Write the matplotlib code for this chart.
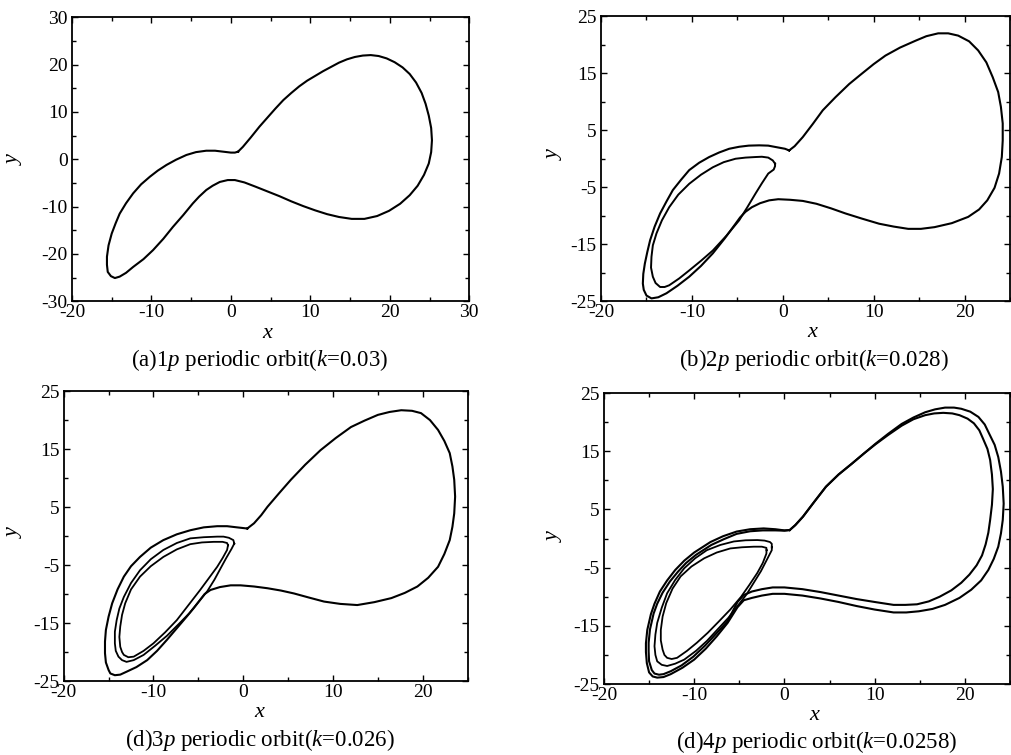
import numpy as np
import matplotlib.pyplot as plt
from matplotlib.ticker import MultipleLocator

plt.rcParams['font.family'] = ['Liberation Serif', 'DejaVu Serif']
plt.rcParams['mathtext.fontset'] = 'custom'
plt.rcParams['mathtext.rm'] = 'Liberation Serif'
plt.rcParams['mathtext.it'] = 'Liberation Serif:italic'
plt.rcParams['axes.unicode_minus'] = False

# (a) 1p orbit, k=0.03
a_x = [0.9, 1.5, 2.5, 3.6, 4.6, 5.6, 6.6, 7.6, 8.6, 9.6, 10.6, 11.6, 12.6, 13.6, 14.6, 15.6,
       16.6, 17.6, 18.6, 19.6, 20.6, 21.6, 22.5, 23.3, 24.0, 24.5, 24.9, 25.2, 25.3, 25.2, 24.9,
       24.3, 23.5, 22.5, 21.3, 19.9, 18.4, 16.8, 15.2, 13.6, 12.1, 10.6, 9.1, 7.6, 6.1, 4.6, 3.1,
       1.7, 0.5, -0.4, -1.4, -2.3, -3.1, -4.0, -4.8, -6.0, -7.3, -8.5, -9.8, -11.0, -12.3, -13.2,
       -14.0, -14.6, -15.1, -15.5, -15.6, -15.6, -15.4, -15.0, -14.5, -14.0, -13.2, -12.3, -11.3,
       -10.2, -9.2, -8.1, -6.9, -5.6, -4.4, -3.1, -2.0, -1.0, 0.0, 0.5, 0.9]
a_y = [1.6, 2.6, 4.6, 6.9, 8.8, 10.7, 12.5, 14.0, 15.4, 16.6, 17.6, 18.6, 19.5, 20.4, 21.1, 21.6,
       21.9, 22.0, 21.8, 21.3, 20.5, 19.4, 18.0, 16.2, 14.0, 11.7, 9.2, 6.6, 4.0, 1.5, -0.9,
       -3.3, -5.6, -7.6, -9.4, -10.9, -12.0, -12.6, -12.6, -12.2, -11.6, -10.8, -9.9, -8.9, -7.8,
       -6.8, -5.8, -4.9, -4.4, -4.4, -4.8, -5.6, -6.5, -7.9, -9.35, -11.8, -14.3, -16.8, -19.2,
       -21.1, -22.75, -24.0, -24.8, -25.1, -24.7, -23.8, -22.3, -20.6, -18.2, -15.7, -13.5, -11.5,
       -9.3, -7.2, -5.3, -3.7, -2.4, -1.2, -0.1, 0.9, 1.5, 1.8, 1.8, 1.6, 1.4, 1.4, 1.6]

# (b) 2p orbit, k=0.028
b1_x = [0.7, 1.3, 2.2, 3.3, 4.4, 5.8, 7.3, 8.6, 10.0, 11.3, 12.9, 14.6, 15.8, 17.1, 18.2, 19.3,
        20.5, 21.5, 22.4, 23.1, 23.7, 24.0, 24.2, 24.2, 24.1, 23.8, 23.3, 22.5, 21.6, 20.4, 18.6,
        16.7, 15.2, 13.8, 12.2, 10.6, 8.7, 6.9, 5.3, 3.7, 2.2, 0.8, -0.5, -1.5, -2.5, -3.4, -4.1,
        -4.7, -5.2, -6.4, -7.7, -9.0, -10.3, -11.6, -12.8, -13.7, -14.45, -15.0, -15.3, -15.4,
        -15.35, -15.18, -14.9, -14.6, -14.1, -13.5, -12.8, -12.1, -11.2, -10.3, -9.2, -8.1, -7.0,
        -5.9, -4.8, -3.75, -2.6, -1.6, -0.6, 0.24, 0.7]
b1_y = [1.46, 2.2, 3.8, 6.1, 8.5, 10.8, 13.1, 14.8, 16.6, 18.1, 19.5, 20.7, 21.5, 22.0, 22.0, 21.6,
        20.6, 19.0, 16.9, 14.3, 11.7, 9.1, 6.2, 3.2, 0.3, -2.6, -5.1, -7.3, -8.9, -10.2, -11.3,
        -12.0, -12.3, -12.3, -11.9, -11.4, -10.5, -9.6, -8.7, -7.9, -7.4, -7.2, -7.1, -7.3, -7.8,
        -8.5, -9.3, -10.3, -11.4, -14.0, -16.6, -18.8, -20.7, -22.3, -23.6, -24.3, -24.5, -24.0,
        -23.0, -21.9, -20.2, -18.4, -16.3, -14.3, -11.9, -9.6, -7.5, -5.5, -3.7, -2.0, -0.7, 0.3,
        1.1, 1.75, 2.1, 2.3, 2.35, 2.3, 2.0, 1.75, 1.46]
b2_x = [-0.85, -1.1, -1.6, -2.3, -3.0, -4.1, -5.2, -6.5, -7.7, -9.0, -10.3, -11.5, -12.5, -13.3,
        -13.9, -14.3, -14.45, -14.5, -14.3, -14.0, -13.5, -13.0, -12.5, -11.4, -10.3, -9.0, -7.7,
        -6.2, -4.8, -3.9, -3.0, -2.3, -1.6, -1.0, -0.85, -0.85]
b2_y = [-0.87, -0.3, 0.2, 0.35, 0.3, 0.2, 0.0, -0.6, -1.5, -2.8, -4.4, -6.3, -8.5, -10.8, -13.1,
        -15.2, -17.2, -19.1, -20.7, -21.8, -22.5, -22.5, -22.2, -21.0, -19.6, -17.9, -16.1, -13.5,
        -10.8, -8.5, -6.1, -4.3, -2.6, -1.9, -1.3, -0.87]

# (c) 3p orbit, k=0.026
c1_x = [0.45, 1.2, 2.0, 2.7, 4.0, 5.3, 6.9, 8.6, 10.3, 12.0, 13.5, 15.0, 16.3, 17.6, 18.8, 19.8,
        20.8, 21.7, 22.4, 23.0, 23.3, 23.5, 23.6, 23.5, 23.3, 23.0, 22.4, 21.7, 20.6, 19.4, 18.0,
        16.5, 14.6, 12.7, 10.8, 9.0, 7.3, 5.65, 4.2, 2.7, 1.2, -0.3, -1.4, -2.6, -3.65, -4.3,
        -4.8, -5.5, -6.3, -7.4, -8.5, -9.6, -10.7, -11.9, -13.0, -13.7, -14.3, -14.8, -15.0, -15.3,
        -15.4, -15.4, -15.3, -15.0, -14.6, -14.0, -13.3, -12.5, -11.5, -10.3, -8.9, -7.4, -5.9,
        -4.4, -2.9, -1.8, -0.7, 0.45]
c1_y = [1.3, 2.2, 3.6, 5.05, 7.4, 9.7, 12.3, 14.8, 16.9, 18.8, 19.9, 20.9, 21.4, 21.7, 21.6, 21.2,
        20.0, 18.3, 16.4, 14.3, 12.0, 9.7, 6.8, 3.9, 1.6, -0.7, -3.1, -5.3, -7.2, -8.7, -9.8, -10.7,
        -11.4, -11.9, -11.7, -11.3, -10.6, -9.9, -9.4, -9.0, -8.7, -8.5, -8.5, -8.8, -9.3, -10.0,
        -11.0, -12.4, -13.9, -15.9, -17.9, -19.8, -21.4, -22.6, -23.4, -23.9, -24.0, -23.7, -23.1,
        -21.8, -20.2, -18.2, -16.2, -13.9, -11.6, -9.2, -7.0, -5.2, -3.6, -2.0, -0.7, 0.3, 1.0,
        1.5, 1.7, 1.7, 1.5, 1.3]
c2_x = [-1.0, -1.1, -1.6, -2.2, -2.9, -4.4, -5.9, -7.4, -8.9, -10.3, -11.5, -12.5, -13.3, -13.8,
        -14.1, -14.3, -14.3, -14.2, -13.9, -13.5, -13.0, -12.2, -11.1, -9.8, -8.5, -7.2, -6.0,
        -5.0, -4.0, -3.2, -2.5, -1.9, -1.3, -1.0]
c2_y = [-1.3, -0.7, -0.3, -0.1, -0.1, -0.2, -0.4, -1.2, -2.4, -4.0, -5.9, -8.1, -10.5, -12.5,
        -14.5, -16.5, -18.5, -19.8, -20.8, -21.4, -21.7, -21.4, -20.5, -18.9, -17.2, -15.2, -13.3,
        -11.4, -9.5, -7.5, -5.5, -3.8, -2.2, -1.3]
c3_x = [-1.7, -1.8, -2.3, -3.3, -4.6, -5.9, -7.4, -8.9, -10.3, -11.5, -12.5, -13.15, -13.5, -13.7,
        -13.8, -13.7, -13.5, -13.3, -12.8, -12.2, -11.1, -10.0, -8.7, -7.4, -6.1, -4.8, -3.8,
        -2.9, -2.3, -1.8, -1.7]
c3_y = [-1.6, -1.2, -1.0, -1.0, -1.1, -1.4, -2.3, -3.6, -5.2, -7.0, -9.2, -11.6, -13.6, -15.6,
        -17.4, -19.1, -20.0, -20.5, -20.9, -20.8, -19.8, -18.5, -16.6, -14.5, -11.9, -9.3, -7.2,
        -5.3, -3.8, -2.4, -1.6]

# (d) 4p orbit, k=0.0258
d1_x = [0.59, 1.2, 2.05, 3.3, 4.6, 6.0, 7.5, 8.8, 10.1, 11.5, 13.0, 14.3, 15.6, 16.7, 17.8, 18.8,
        19.6, 20.6, 21.5, 22.2, 22.7, 23.3, 23.7, 24.0, 24.2, 24.3, 24.2, 24.0, 23.7, 23.2, 22.6,
        21.8, 20.7, 19.4, 17.8, 16.4, 14.9, 13.5, 12.1, 10.0, 8.0, 6.0, 4.0, 2.0, 0.0, -1.3, -2.5,
        -3.6, -4.5, -5.2, -6.3, -7.5, -8.7, -10.0, -11.3, -12.6, -13.4, -14.1, -14.6, -15.0,
        -15.25, -15.35, -15.35, -15.2, -14.8, -14.4, -13.8, -13.0, -12.1, -11.1, -10.0, -8.2,
        -6.8, -5.3, -3.8, -2.3, -1.0, 0.0, 0.59]
d1_y = [1.46, 2.3, 3.75, 6.3, 8.9, 11.0, 12.9, 14.6, 16.3, 18.0, 19.7, 20.8, 21.7, 22.2, 22.5,
        22.5, 22.3, 21.8, 20.9, 19.6, 18.0, 16.1, 14.0, 11.5, 8.9, 6.0, 3.2, 0.9, -1.4, -3.5, -5.4,
        -7.2, -8.8, -10.2, -11.4, -12.1, -12.5, -12.7, -12.7, -12.2, -11.6, -10.9, -10.3, -9.8,
        -9.5, -9.5, -9.8, -10.2, -10.6, -11.8, -14.5, -16.8, -18.9, -20.8, -22.2, -23.3, -23.8,
        -23.9, -23.7, -23.0, -21.4, -19.5, -18.0, -15.7, -13.0, -11.2, -9.1, -7.2, -5.4, -3.8,
        -2.4, -0.6, 0.4, 1.2, 1.6, 1.74, 1.6, 1.4, 1.46]
d2_x = [0.59, 1.2, 2.05, 3.3, 4.6, 6.0, 7.5, 8.8, 10.1, 11.5, 13.0, 14.3, 15.6, 16.6, 17.6, 18.6,
        19.4, 20.3, 21.0, 21.6, 22.0, 22.5, 22.8, 23.0, 23.1, 23.0, 22.8, 22.6, 22.3, 21.9, 21.3,
        20.5, 19.6, 18.5, 17.2, 16.0, 14.7, 13.4, 12.1, 10.0, 8.0, 6.0, 4.0, 2.0, 0.0, -1.3, -2.5,
        -3.6, -4.5, -5.2, -6.3, -7.6, -8.8, -10.1, -11.4, -12.6, -13.4, -13.9, -14.4, -14.7,
        -15.0, -15.05, -15.05, -14.9, -14.5, -14.1, -13.5, -12.7, -11.8, -10.9, -9.8, -8.1, -6.7,
        -5.3, -3.8, -2.4, -1.0, 0.0, 0.59]
d2_y = [1.46, 2.3, 3.75, 6.3, 8.9, 11.0, 12.9, 14.6, 16.2, 17.8, 19.4, 20.5, 21.2, 21.5, 21.6,
        21.5, 21.2, 20.6, 19.8, 18.6, 17.2, 15.4, 13.5, 11.0, 8.5, 5.8, 3.2, 1.0, -1.0, -2.9, -4.6,
        -6.2, -7.6, -8.9, -10.0, -10.8, -11.3, -11.4, -11.4, -10.9, -10.4, -9.8, -9.2, -8.7, -8.4,
        -8.4, -8.7, -9.1, -9.7, -10.9, -14.2, -16.4, -18.4, -20.3, -21.8, -22.8, -23.3, -23.4,
        -23.2, -22.6, -21.1, -19.4, -17.9, -15.6, -12.9, -11.2, -9.3, -7.4, -5.7, -4.2, -2.8,
        -1.1, -0.1, 0.8, 1.25, 1.4, 1.4, 1.35, 1.46]
d3_x = [-1.4, -1.4, -1.6, -2.2, -3.0, -4.3, -5.6, -7.1, -8.6, -9.9, -11.1, -12.1, -13.0, -13.6,
        -14.1, -14.3, -14.4, -14.3, -14.1, -13.6, -13.0, -12.1, -11.1, -9.8, -8.6, -7.4, -6.2,
        -5.2, -4.2, -3.4, -2.6, -2.0, -1.4, -1.4]
d3_y = [-1.5, -0.9, -0.6, -0.35, -0.26, -0.3, -0.5, -1.1, -2.0, -3.4, -5.1, -7.1, -9.4, -11.9,
        -14.5, -16.5, -18.5, -20.0, -21.1, -21.7, -21.9, -21.5, -20.8, -19.3, -17.6, -15.6, -13.6,
        -11.6, -9.6, -7.6, -5.6, -3.8, -2.0, -1.5]
d4_x = [-1.98, -2.0, -2.5, -3.4, -4.7, -6.0, -7.5, -8.9, -10.3, -11.5, -12.4, -13.1, -13.5,
        -13.7, -13.7, -13.5, -13.3, -13.0, -12.5, -11.9, -10.8, -9.7, -8.5, -7.3, -6.0, -4.8,
        -3.9, -3.0, -2.4, -2.0, -1.98]
d4_y = [-2.0, -1.6, -1.4, -1.4, -1.5, -1.7, -2.4, -3.4, -4.8, -6.5, -8.6, -11.1, -13.4, -15.7,
        -17.5, -19.1, -20.0, -20.5, -20.7, -20.5, -19.3, -17.9, -16.2, -14.3, -12.2, -10.0, -8.0,
        -5.9, -4.2, -2.6, -2.0]

captions = ['(a)1$p$ periodic orbit($k$=0.03)', '(b)2$p$ periodic orbit($k$=0.028)',
            '(d)3$p$ periodic orbit($k$=0.026)', '(d)4$p$ periodic orbit($k$=0.0258)']

fig = plt.figure(figsize=(10.11, 7.55), dpi=100)
axa = fig.add_axes([0.0712, 0.601, 0.393, 0.3762])
axb = fig.add_axes([0.5945, 0.601, 0.4045, 0.3775])
axc = fig.add_axes([0.0630, 0.098, 0.3996, 0.384])
axd = fig.add_axes([0.5974, 0.094, 0.4016, 0.3854])

axa.plot(a_x, a_y, color='black', lw=1.5)
axb.plot(b1_x, b1_y, color='black', lw=1.5)
axb.plot(b2_x, b2_y, color='black', lw=1.4)
axc.plot(c1_x, c1_y, color='black', lw=1.5)
axc.plot(c2_x, c2_y, color='black', lw=1.3)
axc.plot(c3_x, c3_y, color='black', lw=1.3)
axd.plot(d1_x, d1_y, color='black', lw=1.5)
axd.plot(d2_x, d2_y, color='black', lw=1.5)
axd.plot(d3_x, d3_y, color='black', lw=1.3)
axd.plot(d4_x, d4_y, color='black', lw=1.3)

axa.set_xlim(-20, 30)
axa.set_ylim(-30, 30)
axa.set_xticks([-20, -10, 0, 10, 20, 30])
axa.set_yticks([-30, -20, -10, 0, 10, 20, 30])
for ax in (axb, axc, axd):
    ax.set_xlim(-20, 25)
    ax.set_ylim(-25, 25)
    ax.set_xticks([-20, -10, 0, 10, 20])
    ax.set_yticks([-25, -15, -5, 5, 15, 25])

xlab_pos = [(0.491, -0.113), (0.516, -0.109), (0.485, -0.110), (0.517, -0.107)]
ylab_pos = [(-0.144, 0.496), (-0.115, 0.512), (-0.121, 0.51), (-0.123, 0.505)]
for i, ax in enumerate((axa, axb, axc, axd)):
    ax.xaxis.set_minor_locator(MultipleLocator(5))
    ax.yaxis.set_minor_locator(MultipleLocator(5))
    ax.tick_params(which='both', direction='in', top=True, right=True, labelsize=14,
                   width=1.0)
    ax.tick_params(which='major', length=4, pad=2)
    ax.tick_params(which='minor', length=3)
    ax.tick_params(axis='y', pad=3)
    for s in ax.spines.values():
        s.set_linewidth(1.3)
    ax.set_xlabel('x', fontsize=16, style='italic', va='center', ha='center')
    ax.set_ylabel('y', fontsize=16, style='italic', va='center', ha='center')
    ax.xaxis.set_label_coords(*xlab_pos[i])
    ax.yaxis.set_label_coords(*ylab_pos[i])

fig.text(0.257, 0.523, captions[0], fontsize=16.5, ha='center', va='center')
fig.text(0.805, 0.523, captions[1], fontsize=16.5, ha='center', va='center')
fig.text(0.257, 0.020, captions[2], fontsize=16.5, ha='center', va='center')
fig.text(0.808, 0.017, captions[3], fontsize=16.5, ha='center', va='center')

plt.savefig('out.png', dpi=100)
plt.close()
